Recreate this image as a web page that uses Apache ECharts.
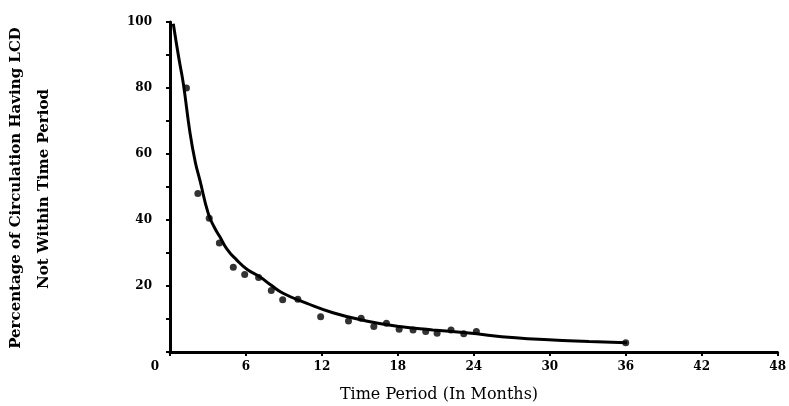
<!DOCTYPE html>
<html>
<head>
<meta charset="utf-8">
<script src="https://cdn.jsdelivr.net/npm/echarts@6/dist/echarts.min.js"></script>
<style>
html,body{margin:0;padding:0;background:#fff;}
#chart{width:789px;height:406px;}
</style>
</head>
<body>
<div id="chart"></div>
<script>
// Observed data points (month, percentage)
var pointMonths = [1.3, 2.2, 3.1, 3.9, 5.0, 5.9, 7.0, 8.0, 8.9, 10.1, 11.9, 14.1, 15.1, 16.1, 17.1, 18.1, 19.2, 20.2, 21.1, 22.2, 23.2, 24.2, 36.0];
var pointValues = [80, 48, 40.5, 33, 25.7, 23.5, 22.6, 18.6, 15.8, 16, 10.7, 9.4, 10.2, 7.7, 8.7, 6.9, 6.7, 6.2, 5.7, 6.7, 5.5, 6.2, 2.8];
// Fitted curve
var curveMonths = [0.26, 0.7, 1.05, 1.58, 2.0, 2.36, 3.02, 3.5, 3.94, 4.5, 5.26, 6.1, 7.09, 8.0, 8.93, 10.77, 12.87, 15.5, 18.12, 20.75, 23.38, 27.3, 29.9, 33.1, 36.1];
var curveValues = [99.5, 89, 81.4, 66.4, 57.5, 52.1, 42.0, 37.8, 34.9, 31.2, 27.9, 25.0, 22.8, 20.2, 17.8, 14.8, 11.9, 9.4, 7.7, 6.7, 5.8, 4.3, 3.7, 3.2, 2.8];
// Axes
var xTicks = [0, 6, 12, 18, 24, 30, 36, 42, 48];
var yLabelValues = [20, 40, 60, 80, 100];
var xTitle = 'Time Period (In Months)';
var yTitle1 = 'Percentage of Circulation Having LCD';
var yTitle2 = 'Not Within Time Period';

var chart = echarts.init(document.getElementById('chart'), null, {renderer: 'canvas'});
var serif = 'DejaVu Serif';
var option = {
  backgroundColor: '#fff',
  animation: false,
  grid: {left: 170, right: 10, top: 22, bottom: 54, containLabel: false},
  xAxis: {
    type: 'value', min: xTicks[0], max: xTicks[xTicks.length - 1], interval: 6,
    axisLine: {show: true, lineStyle: {color: '#000', width: 3}},
    axisTick: {show: true, length: 4, lineStyle: {color: '#000', width: 2}},
    splitLine: {show: false},
    axisLabel: {
      margin: 9, color: '#000', fontFamily: serif, fontWeight: 'bold', fontSize: 12,
      formatter: function (v) { return v === 0 ? '{z|0}' : String(v); },
      rich: {z: {padding: [0, 30, 0, 0], fontFamily: serif, fontWeight: 'bold', fontSize: 12, color: '#000'}}
    }
  },
  yAxis: {
    type: 'value', min: 0, max: 100, interval: 10,
    axisLine: {show: true, lineStyle: {color: '#000', width: 3}},
    axisTick: {show: true, length: 4, lineStyle: {color: '#000', width: 2}},
    splitLine: {show: false},
    axisLabel: {
      margin: 18, color: '#000', fontFamily: serif, fontWeight: 'bold', fontSize: 12,
      formatter: function (v) { return yLabelValues.indexOf(v) >= 0 ? String(v) : ''; }
    }
  },
  graphic: [
    {type: 'text', x: 439, y: 395, style: {text: xTitle, font: '16px "DejaVu Serif"', fill: '#000', align: 'center', verticalAlign: 'middle'}},
    {type: 'text', x: 16, y: 188, rotation: Math.PI / 2, style: {text: yTitle1, font: 'bold 15px "DejaVu Serif"', fill: '#000', align: 'center', verticalAlign: 'middle'}},
    {type: 'text', x: 44, y: 189, rotation: Math.PI / 2, style: {text: yTitle2, font: 'bold 15px "DejaVu Serif"', fill: '#000', align: 'center', verticalAlign: 'middle'}}
  ],
  series: [
    {
      type: 'line', smooth: 0.5, showSymbol: false,
      data: curveMonths.map(function (m, i) { return [m, curveValues[i]]; }),
      lineStyle: {color: '#000', width: 3}
    },
    {
      type: 'scatter', symbol: 'circle', symbolSize: 7,
      data: pointMonths.map(function (m, i) { return [m, pointValues[i]]; }),
      itemStyle: {color: '#000'}
    }
  ]
};
chart.setOption(option);
</script>
</body>
</html>
